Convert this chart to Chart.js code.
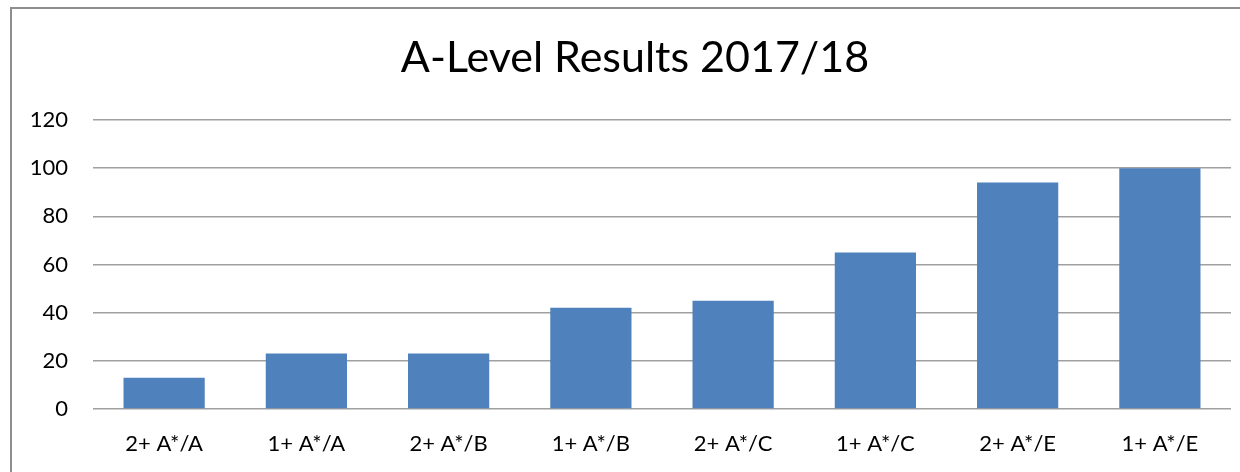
<!DOCTYPE html>
<html>
<head>
<meta charset="utf-8">
<script src="https://cdn.jsdelivr.net/npm/chart.js@4"></script>
<style>
  html, body { margin: 0; padding: 0; background: #fff; overflow: hidden; }
  #wrap { position: absolute; left: 10px; top: 7px; width: 1250px; height: 480px; border: 2px solid #8e8e8e; }
</style>
</head>
<body>
<div id="wrap"><canvas id="chart" width="1246" height="480"></canvas></div>
<script>
// data
const categories = ['2+ A*/A', '1+ A*/A', '2+ A*/B', '1+ A*/B', '2+ A*/C', '1+ A*/C', '2+ A*/E', '1+ A*/E'];
const results = [13, 23, 23, 42, 45, 65, 94, 100];
const yTicks = [0, 20, 40, 60, 80, 100, 120];

const FONT = 'Lato';

const ctx = document.getElementById('chart').getContext('2d');
const chart = new Chart(ctx, {
    type: 'bar',
    data: {
        labels: categories,
        datasets: [{
            label: 'Results',
            data: results,
            backgroundColor: '#4f81bd',
            borderWidth: 0,
            categoryPercentage: 1,
            barPercentage: 0.571
        }]
    },
    options: {
        responsive: false,
        animation: false,
        layout: { padding: 0 },
        plugins: {
            legend: { display: false },
            tooltip: { enabled: false },
            title: {
                display: true,
                text: 'A-Level Results 2017/18',
                color: '#000',
                font: { family: FONT, size: 43, weight: 'normal', lineHeight: 1 },
                padding: { top: 28, bottom: 40 }
            }
        },
        scales: {
            x: {
                grid: { display: false, drawTicks: false },
                border: { display: false },
                ticks: { color: '#000', font: { family: FONT, size: 22 }, padding: 22, maxRotation: 0 },
                afterFit: s => { s.height = 80; }
            },
            y: {
                min: 0,
                max: 120,
                afterBuildTicks: s => { s.ticks = yTicks.map(v => ({ value: v })); },
                grid: { color: '#a0a0a0', lineWidth: 1.5, drawTicks: false },
                border: { display: false },
                ticks: { color: '#000', font: { family: FONT, size: 22 }, padding: 25 },
                afterFit: s => { s.width = 81; }
            },
            // empty right-hand axis, only keeps space so the title stays centred on the frame
            yRight: {
                position: 'right',
                min: 0,
                max: 120,
                grid: { display: false, drawTicks: false },
                border: { display: false },
                ticks: { display: false },
                afterFit: s => { s.width = 27; }
            }
        }
    }
});
</script>
</body>
</html>
